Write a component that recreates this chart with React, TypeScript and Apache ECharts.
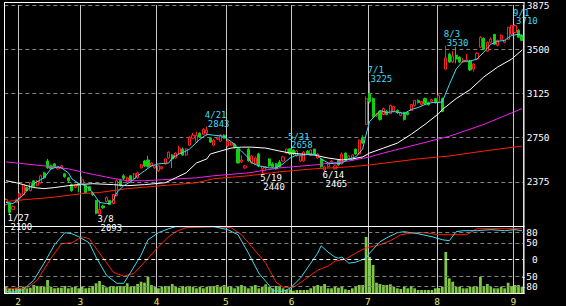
import React, { useEffect, useRef } from 'react';
import * as echarts from 'echarts';

const dates = ('1/26 1/27 1/28 1/31 2/1 2/2 2/3 2/4 2/7 2/8 2/9 2/10 2/14 2/15 2/16 2/17 2/18 2/21 2/22 2/24 2/25 2/28 ' +
  '3/1 3/2 3/3 3/4 3/7 3/8 3/9 3/10 3/11 3/14 3/15 3/16 3/17 3/18 3/22 3/23 3/24 3/25 3/28 3/29 3/30 3/31 ' +
  '4/1 4/4 4/5 4/6 4/7 4/8 4/11 4/12 4/13 4/14 4/15 4/18 4/19 4/20 4/21 4/22 4/25 4/26 4/27 4/28 ' +
  '5/2 5/6 5/9 5/10 5/11 5/12 5/13 5/16 5/17 5/18 5/19 5/20 5/23 5/24 5/25 5/26 5/27 5/30 5/31 ' +
  '6/1 6/2 6/3 6/6 6/7 6/8 6/9 6/10 6/13 6/14 6/15 6/16 6/17 6/20 6/21 6/22 6/23 6/24 6/27 6/28 6/29 6/30 ' +
  '7/1 7/4 7/5 7/6 7/7 7/8 7/11 7/12 7/13 7/14 7/15 7/19 7/20 7/21 7/22 7/25 7/26 7/27 7/28 7/29 ' +
  '8/1 8/2 8/3 8/4 8/5 8/8 8/9 8/10 8/12 8/15 8/16 8/17 8/18 8/19 8/22 8/23 8/24 8/25 8/26 8/29 8/30 8/31 ' +
  '9/1 9/2 9/5').split(' ');

const openP = [2183,2191,2141,2200,2242,2267,2326,2300,2384,2345,2367,2451,2552,2510,2527,2485,2493,2443,2409,2351,
  2326,2359,2359,2342,2334,2284,2217,2100,2170,2208,2217,2191,2258,2384,2426,2376,2426,2401,2409,2493,
  2552,2560,2510,2493,2468,2485,2527,2577,2602,2577,2619,2653,2602,2686,2745,2711,2787,2778,2790,2745,
  2686,2736,2720,2770,2678,2686,2694,2653,2544,2493,2653,2535,2527,2611,2485,2493,2569,2527,2527,2544,
  2552,2619,2655,2645,2594,2552,2552,2636,2602,2653,2577,2569,2475,2502,2544,2485,2560,2527,2619,2569,
  2560,2653,2611,2745,2862,3125,3081,2938,2971,2946,2971,2955,2971,2980,2938,2963,2963,2980,3022,3064,
  3030,3081,3047,3055,3081,3055,3081,3332,3458,3391,3450,3433,3391,3395,3399,3332,3416,3517,3592,3483,
  3559,3626,3534,3584,3559,3584,3626,3643,3659,3617];
const closeP = [2225,2116,2166,2225,2275,2351,2300,2367,2334,2380,2426,2409,2493,2485,2502,2502,2510,2418,2384,2300,
  2351,2342,2392,2284,2300,2267,2108,2141,2155,2242,2183,2267,2384,2342,2405,2409,2384,2443,2451,2518,
  2510,2505,2535,2510,2510,2502,2569,2627,2569,2619,2661,2602,2653,2753,2770,2770,2753,2820,2815,2711,
  2728,2745,2770,2745,2720,2703,2669,2535,2560,2510,2552,2594,2577,2510,2505,2502,2510,2502,2485,2502,
  2586,2653,2611,2611,2636,2594,2627,2611,2644,2611,2611,2502,2502,2527,2552,2510,2518,2610,2560,2594,
  2602,2611,2728,2703,3081,3055,2930,2946,2904,2996,2946,3022,3013,2963,2963,2904,2946,3030,3064,3047,
  3055,3039,3030,3072,3047,3106,2971,3425,3391,3441,3416,3391,3405,3408,3324,3374,3466,3601,3500,3559,
  3584,3542,3575,3617,3575,3685,3700,3700,3601,3575];
const lowP = [2175,2100,2135,2195,2235,2260,2295,2295,2330,2340,2360,2400,2485,2480,2495,2480,2488,2410,2370,2290,
  2320,2285,2350,2278,2295,2255,2100,2093,2145,2200,2178,2185,2252,2335,2390,2370,2378,2395,2400,2490,
  2500,2495,2505,2488,2460,2480,2520,2570,2493,2570,2612,2595,2595,2680,2740,2705,2748,2770,2765,2705,
  2680,2730,2715,2740,2670,2680,2660,2530,2535,2485,2545,2528,2520,2500,2440,2470,2502,2495,2478,2495,
  2545,2612,2602,2600,2588,2545,2545,2605,2595,2605,2570,2495,2465,2495,2538,2480,2512,2520,2555,2560,
  2555,2605,2605,2700,2855,3040,2920,2925,2895,2940,2938,2950,2965,2950,2930,2895,2938,2975,3015,3040,
  3025,3030,3022,3050,3040,3050,2965,3325,3385,3385,3380,3385,3385,3390,3315,3310,3410,3510,3495,3478,
  3550,3535,3525,3578,3550,3578,3620,3635,3595,3570];
const highP = [2235,2200,2175,2232,2285,2355,2335,2372,2390,2390,2435,2460,2569,2520,2535,2510,2520,2450,2415,2360,
  2358,2365,2420,2348,2340,2290,2222,2217,2180,2250,2222,2272,2395,2390,2440,2418,2432,2450,2460,2525,
  2560,2594,2540,2515,2518,2508,2575,2632,2610,2625,2680,2665,2660,2760,2790,2800,2795,2830,2843,2755,
  2740,2760,2780,2778,2730,2710,2700,2660,2600,2518,2660,2600,2590,2620,2512,2510,2575,2540,2535,2560,
  2592,2656,2658,2650,2645,2600,2635,2645,2650,2655,2615,2575,2508,2535,2560,2515,2565,2625,2625,2600,
  2610,2657,2735,2770,3100,3225,3090,2960,2980,3005,2985,3030,3020,2990,2970,2970,2975,3035,3070,3075,
  3062,3090,3055,3080,3088,3115,3090,3530,3470,3483,3520,3440,3425,3458,3410,3380,3475,3610,3600,3565,
  3600,3630,3580,3625,3580,3690,3705,3710,3670,3625];
const volume = [63,47,40,53,47,63,47,53,80,70,63,65,130,63,47,53,53,70,47,57,
  63,47,63,47,53,70,97,120,80,57,63,70,63,70,70,97,63,70,90,113,
  103,163,80,63,47,63,70,70,90,63,53,70,63,70,63,47,63,47,63,70,
  70,80,63,80,63,63,47,63,80,63,47,63,80,47,63,87,63,47,70,63,
  47,30,37,23,30,30,30,30,47,63,80,63,90,47,47,63,53,70,37,30,
  47,63,80,80,560,360,280,103,90,80,80,87,63,47,40,63,47,70,47,30,
  30,30,30,30,47,50,63,410,147,113,63,63,47,47,63,63,63,163,70,90,
  63,47,47,63,47,103,70,80,80,63];

// moving averages, [day index, price]
const ma5 = [[0,2200],[2,2191],[4,2233],[6,2300],[8,2359],[11,2409],[13,2485],[15,2502],[16,2493],[18,2451],
  [19,2401],[21,2359],[23,2342],[24,2317],[25,2284],[26,2242],[27,2200],[29,2191],[30,2191],[31,2217],
  [32,2284],[34,2342],[36,2376],[38,2426],[40,2468],[42,2510],[44,2527],[47,2535],[48,2577],[50,2611],
  [52,2636],[53,2653],[56,2736],[58,2778],[60,2770],[63,2761],[64,2736],[66,2694],[68,2636],[70,2577],
  [71,2535],[73,2510],[76,2493],[78,2493],[80,2527],[82,2577],[84,2602],[86,2602],[88,2611],[90,2602],
  [91,2569],[93,2535],[95,2527],[97,2535],[99,2569],[101,2586],[103,2653],[104,2778],[105,2887],[107,2946],
  [108,2980],[110,2963],[112,2971],[115,2955],[117,2988],[119,3005],[121,3030],[123,3047],[125,3047],[126,3055],
  [128,3198],[130,3332],[132,3399],[134,3399],[136,3416],[138,3475],[140,3542],[142,3567],[144,3575],[146,3617],
  [148,3626],[149,3617]];
const ma25 = [[0,2384],[3,2367],[5,2351],[8,2326],[11,2317],[14,2326],[18,2342],[21,2351],[25,2359],[31,2351],
  [35,2342],[40,2351],[43,2359],[46,2367],[49,2409],[52,2451],[55,2535],[58,2569],[59,2611],[62,2636],
  [65,2661],[68,2669],[71,2669],[75,2661],[79,2636],[82,2619],[85,2611],[89,2602],[93,2577],[97,2560],
  [100,2569],[103,2586],[105,2619],[109,2661],[113,2703],[117,2778],[121,2862],[125,2955],[126,2988],[130,3081],
  [134,3156],[138,3265],[142,3349],[146,3416],[149,3492]];
const ma75 = [[0,2544],[11,2510],[18,2485],[23,2451],[30,2409],[35,2384],[40,2384],[45,2392],[55,2409],[60,2426],
  [70,2451],[79,2493],[89,2518],[99,2552],[105,2586],[109,2619],[119,2694],[128,2761],[138,2862],[149,2996]];
const ma200 = [[0,2208],[6,2225],[13,2242],[22,2275],[27,2284],[35,2317],[45,2342],[55,2367],[60,2401],[70,2426],
  [79,2460],[89,2485],[99,2502],[105,2518],[119,2569],[128,2594],[138,2636],[149,2678]];

// oscillator, [day index, value]
const oscFast = [[0,-95],[2,-98],[5,-90],[8,-62],[11,-11],[14,44],[17,80],[19,77],[21,68],[24,50],
  [26,7],[29,-47],[32,-71],[34,-71],[36,-38],[39,13],[41,59],[44,80],[47,92],[49,98],
  [54,98],[60,98],[64,89],[67,74],[70,19],[73,-41],[76,-77],[77,-93],[80,-95],[82,-86],
  [85,-56],[88,-11],[90,19],[91,41],[93,22],[95,7],[96,4],[97,7],[99,-11],[101,-8],
  [104,4],[105,19],[108,53],[110,65],[113,80],[115,83],[119,77],[123,68],[126,59],[128,56],
  [130,83],[132,86],[136,86],[140,89],[144,86],[147,89],[149,86]];
const oscSlow = [[0,-86],[6,-86],[9,-62],[13,4],[16,47],[19,50],[22,68],[24,62],[27,19],[31,-38],
  [34,-50],[37,-41],[40,-8],[44,38],[47,68],[49,83],[52,95],[60,98],[65,95],[68,74],
  [71,38],[75,-11],[78,-68],[80,-83],[83,-83],[86,-62],[90,-32],[93,-20],[95,-5],[98,1],
  [101,19],[104,35],[108,44],[111,56],[114,74],[118,80],[121,80],[125,74],[128,74],[133,74],
  [136,92],[140,92],[149,92]];
const oscTicks = [80, 50, 0, -50, -80];

const highMarks = ['4/21', '5/31', '7/1', '8/3', '9/1'];
const lowMarks = ['1/27', '3/8', '5/19', '6/14'];

const MONO = 'DejaVu Sans Mono';
const CYAN = '#3cdcf0';

export default function App() {
  const ref = useRef<HTMLDivElement>(null);
  useEffect(() => {
    const chart = echarts.init(ref.current!, null, { renderer: 'svg' });
    const month = (d: string) => d.split('/')[0];
    const monthStart = new Set<number>();
    dates.forEach((d, i) => { if (i > 0 && month(d) !== month(dates[i - 1])) monthStart.add(i); });
    const isMonthStart = (i: number) => monthStart.has(i);

    const mk = (coord: any[], text: string, color: string, pos: number[]) => ({
      coord, value: 0,
      label: { show: true, formatter: text, position: pos, align: 'left', verticalAlign: 'middle',
        color, fontFamily: MONO, fontSize: 9 },
    });
    const marks: any[] = [];
    highMarks.forEach((d) => {
      const i = dates.indexOf(d);
      marks.push(mk([i, highP[i]], d, CYAN, [-1.5, -11]));
      marks.push(mk([i, highP[i]], String(highP[i]), CYAN, [1.5, -2.5]));
    });
    lowMarks.forEach((d) => {
      const i = dates.indexOf(d);
      marks.push(mk([i, lowP[i]], d, '#ffffff', [-1.5, 4]));
      marks.push(mk([i, lowP[i]], String(lowP[i]), '#ffffff', [1.5, 13]));
    });

    const lineS = (data: number[][], color: string, x: number, y: number, z: number) => ({
      type: 'line', xAxisIndex: x, yAxisIndex: y, data, symbol: 'none', z,
      lineStyle: { color, width: 1 }, silent: true,
    });

    const frameLine = (x1: number, y1: number, x2: number, y2: number) => ({
      type: 'line', shape: { x1, y1, x2, y2 }, style: { stroke: '#ffffff', lineWidth: 1 }, z: 100, silent: true,
    });

    const option: any = {
      animation: false,
      backgroundColor: '#000000',
      grid: [
        { left: 4.3, top: 2, width: 519.4, height: 224 },
        { left: 4.3, top: 226, width: 519.4, height: 67 },
      ],
      xAxis: [
        {
          type: 'category', gridIndex: 0, data: dates, boundaryGap: true,
          axisLine: { show: false }, axisTick: { show: false }, axisLabel: { show: false },
          splitLine: { show: true, interval: isMonthStart, lineStyle: { color: '#c8c8c8', width: 1 } },
        },
        {
          type: 'category', gridIndex: 1, data: dates, boundaryGap: true,
          axisLine: { show: false }, axisTick: { show: false },
          axisLabel: {
            show: true, interval: isMonthStart, formatter: (v: string) => month(v),
            color: '#e8e878', fontFamily: MONO, fontSize: 9.5, margin: 3, padding: [0, 3.5, 0, 0],
          },
          splitLine: { show: true, interval: isMonthStart, lineStyle: { color: '#c8c8c8', width: 1 } },
        },
      ],
      yAxis: [
        {
          type: 'value', gridIndex: 0, position: 'right', min: 2000, max: 3875, interval: 375,
          axisLine: { show: false }, axisTick: { show: false },
          axisLabel: { formatter: (v: number) => String(v), color: '#ffffff', fontFamily: MONO, fontSize: 9.5, margin: 3, showMinLabel: false, padding: [4, 0, 0, 0] },
          splitLine: { show: true, lineStyle: { color: '#808080', type: [4, 3], width: 1 } },
        },
        {
          type: 'value', gridIndex: 1, position: 'right', min: -100, max: 100,
          axisLine: { show: false }, axisTick: { show: false, customValues: oscTicks },
          axisLabel: { customValues: oscTicks, formatter: (v: number) => String(v), align: 'right', margin: 14, color: '#ffffff', fontFamily: MONO, fontSize: 9.5 },
          splitLine: { show: false },
        },
        { type: 'value', gridIndex: 1, min: 0, max: 670, show: false, splitLine: { show: false } },
      ],
      series: [
        {
          type: 'candlestick', xAxisIndex: 0, yAxisIndex: 0, z: 2, barWidth: 2.6,
          data: dates.map((_, i) => [openP[i], closeP[i], lowP[i], highP[i]]),
          itemStyle: { color: '#000000', color0: '#10d010', borderColor: '#ff2020', borderColor0: '#10d010', borderWidth: 1 },
          markPoint: { symbol: 'circle', symbolSize: 1, itemStyle: { color: 'rgba(0,0,0,0)' }, silent: true, data: marks },
        },
        lineS(ma200, '#ff2000', 0, 0, 3),
        lineS(ma75, '#f020f0', 0, 0, 3),
        lineS(ma25, '#ffffff', 0, 0, 3),
        lineS(ma5, CYAN, 0, 0, 4),
        {
          type: 'line', xAxisIndex: 1, yAxisIndex: 1, data: [], z: 1, silent: true,
          markLine: {
            silent: true, symbol: ['none', 'none'], label: { show: false },
            lineStyle: { color: '#808080', type: [4, 3], width: 1 },
            data: oscTicks.map((v) => (v === 0 ? { yAxis: v, lineStyle: { color: '#ffffff', type: [4, 3], width: 1 } } : { yAxis: v })),
          },
        },
        {
          type: 'bar', xAxisIndex: 1, yAxisIndex: 2, data: volume, z: 2, silent: true,
          barCategoryGap: '20%', itemStyle: { color: '#80c840' },
        },
        lineS(oscSlow, '#ff2000', 1, 1, 3),
        lineS(oscFast, CYAN, 1, 1, 4),
      ],
      graphic: [
        frameLine(4, 2.5, 524.5, 2.5),
        frameLine(4.5, 2, 4.5, 294),
        frameLine(524, 2, 524, 294),
        frameLine(4, 226.5, 524.5, 226.5),
        frameLine(4, 293.5, 524.5, 293.5),
      ],
    };
    chart.setOption(option);
    return () => chart.dispose();
  }, []);
  return <div ref={ref} style={{ position: 'fixed', left: 0, top: 0, width: 566, height: 306, background: '#000' }} />;
}
